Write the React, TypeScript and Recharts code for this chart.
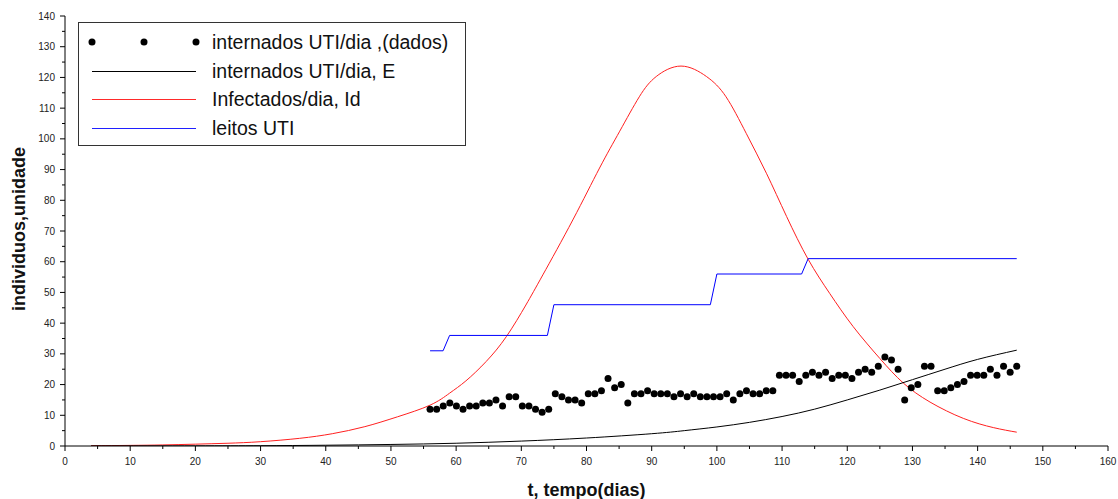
import React from 'react';
import { ComposedChart, Line, Scatter, XAxis, YAxis, Legend } from 'recharts';

// internados UTI/dia (dados): 90 pontos entre os dias 56 e 146
const dadosInicio = 56;
const dadosFim = 146;
const internadosDados = [
  12, 12, 13, 14, 13, 12, 13, 13, 14, 14, 15, 13, 16, 16, 13, 13, 12, 11, 12, 17,
  16, 15, 15, 14, 17, 17, 18, 22, 19, 20, 14, 17, 17, 18, 17, 17, 17, 16, 17, 16,
  17, 16, 16, 16, 16, 17, 15, 17, 18, 17, 17, 18, 18, 23, 23, 23, 21, 23, 24, 23,
  24, 22, 23, 23, 22, 24, 25, 24, 26, 29, 28, 25, 15, 19, 20, 26, 26, 18, 18, 19,
  20, 21, 23, 23, 23, 25, 23, 26, 24, 26,
];

// internados UTI/dia, E  [t, valor]
const internadosE: [number, number][] = [
  [4, 0], [20, 0.05], [30, 0.1], [40, 0.25], [50, 0.5], [60, 0.9], [70, 1.6],
  [80, 2.6], [90, 4.0], [95, 5.0], [100, 6.2], [105, 7.7], [110, 9.6],
  [115, 12.0], [120, 15.0], [125, 18.2], [130, 21.6], [135, 25.0],
  [140, 28.2], [146, 31.2],
];

// Infectados/dia, Id  [t, valor]
const infectadosId: [number, number][] = [
  [4, 0.1], [10, 0.2], [15, 0.35], [20, 0.6], [25, 0.9], [30, 1.4], [36, 2.5],
  [41, 4.0], [46, 6.3], [51, 9.5], [56, 13.3], [59, 17.2], [61.5, 21.2],
  [64.6, 27.5], [67.7, 35.6], [70.7, 45.9], [73.3, 55.7], [77.9, 73.6],
  [82, 90.5], [85.1, 102.5], [88.1, 113.7], [90.7, 120.3], [94.5, 123.7],
  [98.4, 120.3], [101.4, 113.7], [104.5, 101.8], [107.6, 88.8], [110.7, 74.7],
  [114, 60.8], [117.3, 49.7], [120.9, 38.9], [125, 28.5], [128.6, 20.5],
  [132.7, 14.3], [137.8, 9.0], [142.4, 6.0], [146, 4.5],
];

// leitos UTI  [t, valor]
const leitosUti: [number, number][] = [
  [56, 31], [58, 31], [59, 36], [74, 36], [75, 46], [99, 46], [100, 56],
  [113, 56], [114, 61], [146, 61],
];

const xTicks = [0, 5, 10, 15, 20, 25, 30, 35, 40, 45, 50, 55, 60, 65, 70, 75, 80,
  85, 90, 95, 100, 105, 110, 115, 120, 125, 130, 135, 140, 145, 150, 155, 160];
const yTicks = [0, 5, 10, 15, 20, 25, 30, 35, 40, 45, 50, 55, 60, 65, 70, 75, 80,
  85, 90, 95, 100, 105, 110, 115, 120, 125, 130, 135, 140];

const legendItems = [
  { label: 'internados UTI/dia ,(dados)', kind: 'dots', color: '#000000' },
  { label: 'internados UTI/dia, E', kind: 'line', color: '#000000' },
  { label: 'Infectados/dia, Id', kind: 'line', color: '#ff2a2a' },
  { label: 'leitos UTI', kind: 'line', color: '#2020ff' },
];

const toPoints = (rows: [number, number][]) => rows.map(([t, v]) => ({ t, v }));
const dados = internadosDados.map((v, i) => ({
  t: dadosInicio + (i * (dadosFim - dadosInicio)) / (internadosDados.length - 1),
  v,
}));

const font = '"Liberation Sans", Arial, sans-serif';

function XTick({ x, y, payload }: any) {
  const major = payload.value % 10 === 0;
  return (
    <g>
      <line x1={x} x2={x} y1={y} y2={y + (major ? 5 : 3)} stroke="#000" />
      {major && (
        <text x={x} y={y + 19} textAnchor="middle" fontSize={10} fontFamily={font} fill="#222">
          {payload.value}
        </text>
      )}
    </g>
  );
}

function YTick({ x, y, payload }: any) {
  const major = payload.value % 10 === 0;
  return (
    <g>
      <line x1={x - (major ? 5 : 3)} x2={x} y1={y} y2={y} stroke="#000" />
      {major && (
        <text x={x - 10} y={y + 3.5} textAnchor="end" fontSize={10} fontFamily={font} fill="#222">
          {payload.value}
        </text>
      )}
    </g>
  );
}

function DataDot({ cx, cy }: any) {
  return <circle cx={cx} cy={cy} r={3.5} fill="#000" />;
}

function LegendBox() {
  return (
    <svg width={388} height={124} style={{ display: 'block' }}>
      <rect x={0.5} y={0.5} width={387} height={123} fill="#fff" stroke="#333" />
      {legendItems.map((item, i) => {
        const cy = Math.round(20 + i * 28.5);
        return (
          <g key={item.label}>
            {item.kind === 'dots' ? (
              [14, 66, 118].map((cx) => <circle key={cx} cx={cx} cy={cy} r={3.5} fill={item.color} />)
            ) : (
              <rect x={14} y={cy} width={104} height={1} fill={item.color} />
            )}
            <text x={134} y={cy + 7} fontSize={19.5} fontFamily={font} fill="#111">
              {item.label}
            </text>
          </g>
        );
      })}
    </svg>
  );
}

export default function App() {
  return (
    <div style={{ position: 'absolute', left: 0, top: 0, background: '#fff' }}>
      <ComposedChart width={1118} height={499} margin={{ top: 16, right: 10, bottom: 0, left: 0 }}>
        <XAxis
          dataKey="t"
          type="number"
          domain={[0, 160]}
          ticks={xTicks}
          interval={0}
          height={53}
          tickSize={0}
          tickMargin={0}
          tick={<XTick />}
          axisLine={{ stroke: '#000' }}
          allowDataOverflow
          label={{
            value: 't, tempo(dias)',
            position: 'insideBottom',
            offset: 3,
            style: { fontSize: 18, fontWeight: 'bold', fontFamily: font, fill: '#111' },
          }}
        />
        <XAxis xAxisId="top" orientation="top" type="number" domain={[0, 160]} height={0} tick={false} tickLine={false} axisLine={{ stroke: '#000' }} />
        <YAxis
          type="number"
          domain={[0, 140]}
          ticks={yTicks}
          interval={0}
          width={65}
          tickSize={0}
          tickMargin={0}
          tick={<YTick />}
          axisLine={{ stroke: '#000' }}
          allowDataOverflow
          label={{
            content: () => (
              <text
                x={25}
                y={229}
                transform="rotate(-90 25 229)"
                textAnchor="middle"
                fontSize={18}
                fontWeight="bold"
                fontFamily={font}
                fill="#111"
              >
                individuos,unidade
              </text>
            ),
          }}
        />
        <YAxis yAxisId="right" orientation="right" type="number" domain={[0, 140]} width={0} tick={false} tickLine={false} axisLine={{ stroke: '#000' }} />
        <Line data={toPoints(infectadosId)} dataKey="v" type="natural" stroke="#ff2020" strokeWidth={1} dot={false} isAnimationActive={false} />
        <Line data={toPoints(internadosE)} dataKey="v" type="natural" stroke="#000000" strokeWidth={1} dot={false} isAnimationActive={false} />
        <Line data={toPoints(leitosUti)} dataKey="v" type="linear" stroke="#0000ff" strokeWidth={1} dot={false} isAnimationActive={false} />
        <Scatter data={dados} dataKey="v" shape={<DataDot />} isAnimationActive={false} />
        <Legend
          layout="horizontal"
          verticalAlign="middle"
          align="center"
          content={() => <LegendBox />}
          wrapperStyle={{ left: 78, top: 22, width: 388, height: 124 }}
        />
      </ComposedChart>
    </div>
  );
}
